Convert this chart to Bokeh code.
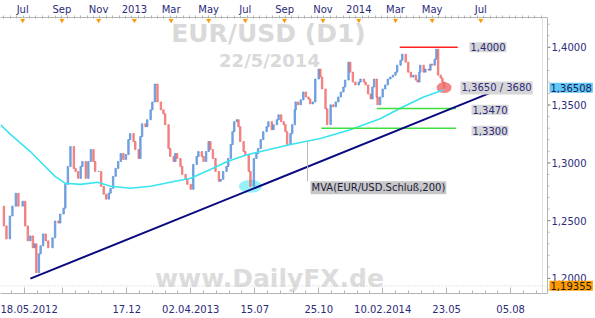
import numpy as np
from bokeh.plotting import figure
from bokeh.models import (Range1d, LinearAxis, FixedTicker, Label, ColumnDataSource,
                          Span, CustomJSTickFormatter)
from bokeh.embed import file_html
from bokeh.resources import INLINE

# ---------------- data (trading-day index / EUR/USD price) ----------------
bar = [0, 4, 7, 11, 14, 18, 21, 26, 29, 32,
       35, 38, 40, 42, 45, 47, 50, 53, 56, 61,
       64, 68, 70, 74, 76, 79, 82, 86, 88, 91,
       94, 96, 100, 103, 106, 109, 111, 115, 118, 121,
       124, 127, 129, 132, 135, 138, 141, 144, 147, 150,
       152, 156, 158, 162, 164, 166, 170, 172, 176, 178,
       181, 184, 188, 191, 193, 197, 199, 203, 205, 207,
       211, 213, 217, 219, 223, 226, 230, 232, 236, 238,
       241, 244, 246, 249, 252, 256, 258, 261, 265, 267,
       270, 272, 274, 277, 279, 281, 285, 287, 291, 293,
       297, 300, 302, 305, 308, 312, 314, 318, 320, 324,
       326, 329, 332, 334, 336, 340, 342, 345, 346, 349,
       352, 355, 358, 361, 363, 366, 369, 373, 375, 377,
       381, 383, 387, 390, 393, 396, 399, 402, 404, 408,
       410, 413, 416, 420, 422, 426, 428, 431, 434, 436,
       438, 441, 442, 445, 448, 451, 454, 457, 460, 463,
       465, 469, 471, 475, 478, 481, 484, 487, 489, 491,
       492, 496, 498, 502, 504, 506, 509, 511, 513, 516,
       518, 520]
close = [1.2625, 1.2454, 1.2342, 1.2540, 1.2625, 1.2737, 1.2625, 1.2668, 1.2454, 1.2325,
         1.2368, 1.2265, 1.2299, 1.2050, 1.2213, 1.2282, 1.2385, 1.2325, 1.2265, 1.2351,
         1.2497, 1.2479, 1.2557, 1.2608, 1.2814, 1.2969, 1.3141, 1.2952, 1.2926, 1.2866,
         1.2969, 1.3012, 1.2866, 1.3012, 1.3115, 1.3012, 1.2926, 1.2926, 1.2797, 1.2729,
         1.2686, 1.2737, 1.2780, 1.2883, 1.2952, 1.3012, 1.3081, 1.3029, 1.3072, 1.3201,
         1.3253, 1.3184, 1.3115, 1.3038, 1.3227, 1.3338, 1.3313, 1.3373, 1.3459, 1.3527,
         1.3682, 1.3527, 1.3459, 1.3424, 1.3330, 1.3124, 1.3055, 1.3012, 1.3081, 1.3038,
         1.2969, 1.2900, 1.2857, 1.2814, 1.2771, 1.2986, 1.3055, 1.3098, 1.3055, 1.3012,
         1.3098, 1.3184, 1.3115, 1.3038, 1.2926, 1.2840, 1.2857, 1.2926, 1.2969, 1.3038,
         1.3158, 1.3270, 1.3356, 1.3373, 1.3313, 1.3184, 1.3098, 1.3072, 1.2926, 1.2797,
         1.3038, 1.3081, 1.3124, 1.3201, 1.3270, 1.3313, 1.3356, 1.3287, 1.3330, 1.3373,
         1.3416, 1.3356, 1.3330, 1.3270, 1.3158, 1.3253, 1.3330, 1.3459, 1.3527, 1.3502,
         1.3545, 1.3613, 1.3570, 1.3553, 1.3510, 1.3527, 1.3725, 1.3811, 1.3742, 1.3639,
         1.3467, 1.3330, 1.3502, 1.3485, 1.3527, 1.3570, 1.3613, 1.3656, 1.3716, 1.3871,
         1.3785, 1.3699, 1.3674, 1.3699, 1.3725, 1.3699, 1.3674, 1.3596, 1.3553, 1.3656,
         1.3725, 1.3570, 1.3502, 1.3570, 1.3639, 1.3674, 1.3725, 1.3742, 1.3759, 1.3785,
         1.3845, 1.3888, 1.3940, 1.3871, 1.3785, 1.3742, 1.3759, 1.3716, 1.3699, 1.3785,
         1.3845, 1.3785, 1.3811, 1.3802, 1.3854, 1.3845, 1.3897, 1.3983, 1.3759, 1.3734,
         1.3699, 1.3651]

ma_bar = [0, 12, 35, 50, 64, 76, 94, 114, 129, 152, 176, 199,
          223, 246, 266, 287, 305, 340, 375, 410, 445, 472, 496, 519]
ma200 = [1.3330, 1.3244, 1.3098, 1.2986, 1.2883, 1.2823, 1.2814, 1.2832, 1.2797, 1.2780, 1.2797, 1.2832,
         1.2866, 1.2943, 1.3012, 1.3065, 1.3098, 1.3158, 1.3210, 1.3287, 1.3381, 1.3485, 1.3570, 1.3631]

trend_bar = [35, 574]
trend_val = [1.1998, 1.3605]

res_bar = [468, 536]
res_level = 1.4000
sup1_bar = [441, 534]
sup1_level = 1.3470
sup2_bar = [376, 534]
sup2_level = 1.3300
touch_bar = 293
touch_val = 1.2797

last_close = 1.36508
period_low = 1.19355

month_bars = [26, 72, 115, 157, 200, 244, 287, 333, 378, 420, 463, 506, 563]
month_labels = ["Jul", "Sep", "Nov", "2013", "Mar", "May", "Jul", "Sep", "Nov", "2014", "Mar", "May", "Jul"]
date_bars = [28, 73, 148, 223, 298, 373, 448, 523, 598]
date_labels = ["18.05.2012", "", "17.12", "02.04.2013", "15.07", "25.10", "10.02.2014", "23.05", "05.08"]
price_ticks = [1.20, 1.25, 1.30, 1.35, 1.40]

title_text = "EUR/USD (D1)"
date_text = "22/5/2014"
watermark = "www.DailyFX.de"
ma_text = "MVA(EUR/USD.Schluß,200)"
target_text = "1,3650 / 3680"

# ---------------- layout ----------------
AXIS_PX = 547                  # pixel column of the price axis
FRAME_H = 278
PX = 641.2 / AXIS_PX           # bars per pixel
X_END = 595 * PX
Y0, Y1 = 1.18694, 1.42577
PY = (Y1 - Y0) / FRAME_H       # price per pixel
FONT = "DejaVu Sans"
NAVY = "#2b2b7b"
AX = "#b4b4b4"

def ypx(py):
    # price at a pixel row of the window (frame top at row 15)
    return Y1 - (py - 15) * PY

p = figure(width=595, height=318, x_range=Range1d(0, X_END), y_range=Range1d(Y0, Y1),
           output_backend="svg", toolbar_location=None,
           x_axis_location=None, y_axis_location=None,
           min_border_left=0, min_border_right=0, min_border_top=15, min_border_bottom=25,
           background_fill_color="white", border_fill_color="white",
           outline_line_color=None)
p.xgrid.visible = False
p.ygrid.visible = False

lookup = "const i = t.indexOf(tick); return i >= 0 ? l[i] : '';"

top = LinearAxis(ticker=FixedTicker(ticks=month_bars, minor_ticks=list(np.arange(4, AXIS_PX * PX, 7.5))),
                 formatter=CustomJSTickFormatter(args=dict(t=month_bars, l=month_labels), code=lookup),
                 bounds=(0, AXIS_PX * PX))
top.axis_line_color = AX
top.major_tick_out = 0
top.major_tick_in = 0
top.minor_tick_out = 2
top.minor_tick_in = 1
top.minor_tick_line_color = AX
top.major_label_standoff = 1
top.major_label_text_font = FONT
top.major_label_text_font_size = "10px"
top.major_label_text_color = NAVY
p.add_layout(top, "above")

bottom = LinearAxis(ticker=FixedTicker(ticks=date_bars, minor_ticks=list(np.arange(-2, AXIS_PX * PX, 15))),
                    formatter=CustomJSTickFormatter(args=dict(t=date_bars, l=date_labels), code=lookup),
                    bounds=(0, AXIS_PX * PX))
bottom.axis_line_color = AX
bottom.major_tick_in = 6
bottom.major_tick_out = 0
bottom.major_tick_line_color = AX
bottom.minor_tick_in = 3
bottom.minor_tick_out = 0
bottom.minor_tick_line_color = AX
bottom.major_label_standoff = 11
bottom.major_label_text_font = FONT
bottom.major_label_text_font_size = "10px"
bottom.major_label_text_color = NAVY
p.add_layout(bottom, "below")

# background texts
p.add_layout(Label(x=268 * PX, y=ypx(31), text=title_text, text_font=FONT, text_font_size="25px",
                   text_font_style="bold", text_color="#d9d9d9", text_align="center",
                   text_baseline="middle", level="underlay"))
p.add_layout(Label(x=269 * PX, y=ypx(58), text=date_text, text_font=FONT, text_font_size="18px",
                   text_font_style="bold", text_color="#d9d9d9", text_align="center",
                   text_baseline="middle", level="underlay"))
p.add_layout(Label(x=269 * PX, y=ypx(278), text=watermark, text_font=FONT, text_font_size="25px",
                   text_font_style="bold", text_color="#dcdcdc", text_align="center",
                   text_baseline="middle", level="underlay"))

# frame lines and the price axis drawn inside the frame
p.add_layout(Span(location=period_low, dimension="width", line_color="#c8c8c8",
                  line_dash="1 2", line_width=1))
p.add_layout(Span(location=(AXIS_PX - 5) * PX, dimension="height", line_color="#e2e2e2", line_width=1))
p.add_layout(Span(location=AXIS_PX * PX, dimension="height", line_color=AX, line_width=1))

ax_x = AXIS_PX * PX
minor_levels = list(np.arange(1.19, 1.43, 0.01))
p.segment(x0=[ax_x] * len(minor_levels), y0=minor_levels, x1=[ax_x + 2 * PX] * len(minor_levels),
          y1=minor_levels, line_color=AX, line_width=1)
p.segment(x0=[ax_x] * len(price_ticks), y0=price_ticks, x1=[ax_x + 3 * PX] * len(price_ticks),
          y1=price_ticks, line_color="#888888", line_width=1)
fmt = lambda v, d=4: f"{v:.{d}f}".replace(".", ",")
p.text(x=[ax_x + 4 * PX] * len(price_ticks), y=price_ticks, text=[fmt(v) for v in price_ticks],
       text_font_size="10px", text_color=NAVY, text_baseline="middle", text_align="left",
       text_font={"value": FONT})

# highlight ellipses
p.ellipse(x=[touch_bar], y=[touch_val], width=23, height=13, width_units="screen",
          height_units="screen", fill_color="#7eeef8", line_color=None, fill_alpha=0.8)
p.ellipse(x=[bar[-1]], y=[close[-1]], width=15, height=11, width_units="screen",
          height_units="screen", fill_color="#f07070", line_color=None, fill_alpha=0.85)

# price bars
prev = np.array(close[:-1])
cur = np.array(close[1:])
colors = ["#4f8ad8" if c >= o else "#ef6464" for o, c in zip(prev, cur)]
src = ColumnDataSource(dict(x=bar[1:], top=np.maximum(prev, cur), bottom=np.minimum(prev, cur), color=colors))
p.vbar(x="x", top="top", bottom="bottom", width=1.7, fill_color="color", line_color="color",
       fill_alpha=0.7, line_alpha=0.7, source=src)

# moving average, levels, trend line
p.line(ma_bar, ma200, line_color="#38e4f0", line_width=1.6)
p.line(res_bar, [res_level] * 2, line_color="#ff2020", line_width=1.5)
p.line(sup1_bar, [sup1_level] * 2, line_color="#3ee03e", line_width=1.5)
p.line(sup2_bar, [sup2_level] * 2, line_color="#3ee03e", line_width=1.5)
p.line(trend_bar, trend_val, line_color="#0a0a80", line_width=2)

# MA label connector
ma_x = 307 * PX
p.segment(x0=[ma_x], y0=[float(np.interp(ma_x, ma_bar, ma200))], x1=[ma_x], y1=[ypx(180)],
          line_color="#b8b8b8", line_width=1)

def tag(xp, y, text, bg="#d6d6d6", color=NAVY):
    p.add_layout(Label(x=xp * PX, y=y, text=text, text_font=FONT, text_font_size="10px",
                       text_color=color, text_align="left", text_baseline="middle",
                       background_fill_color=bg, padding=1))

tag(469, res_level, fmt(res_level))
tag(460, ypx(86), target_text)
tag(471, ypx(108), fmt(sup1_level))
tag(471, ypx(129), fmt(sup2_level))
tag(310, ypx(186.5), ma_text, bg="#c8c8c8", color="#1a1a3a")
tag(549, last_close, fmt(last_close, 5), bg="#62c9f4", color="#1a1a5a")
tag(549, period_low, fmt(period_low, 5), bg="#ff9a00", color="#1a1a1a")

# orange month markers on the top axis
p.scatter(x=month_bars, y=[Y1 - 3 * PY] * len(month_bars), marker="inverted_triangle",
          size=5, fill_color="#ff9900", line_color=None)

open("out.html", "w").write(file_html(p, INLINE))
